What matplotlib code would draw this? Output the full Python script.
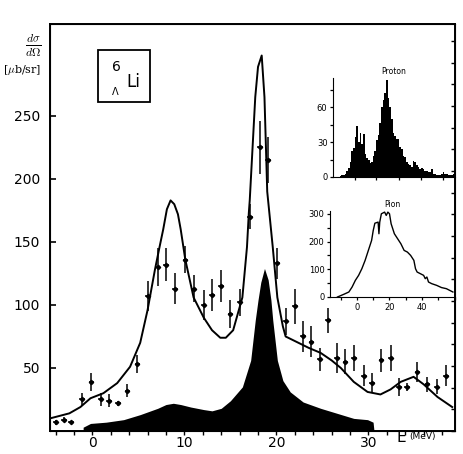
import numpy as np
import matplotlib
matplotlib.use('Agg')
import matplotlib.pyplot as plt
from matplotlib.ticker import MultipleLocator, FixedLocator, NullFormatter
from matplotlib.patches import Rectangle

plt.rcParams['mathtext.fontset'] = 'cm'

# fitted curve (solid line), E in MeV, cross section in ub/sr
fit_E = [-4.6, -2.5, -1.3, -0.2, 1.2, 2.7, 4.1, 5.2, 6.0, 6.8, 7.3, 7.7, 8.1, 8.5, 8.9, 9.3, 9.6, 10.1,
         11.0, 12.1, 13.0, 13.9, 14.5, 15.3, 16.3, 16.8, 17.0, 17.1, 17.7, 18.0, 18.4, 18.7,
         19.0, 19.6, 20.1, 20.7, 21.0, 23.5, 24.8, 26.0, 27.0, 28.4, 29.9, 31.3, 32.4, 33.5,
         34.9, 36.0, 37.5, 39.1]
fit_xs = [10, 14, 19, 26, 30, 38, 51, 70, 96, 128, 146, 160, 176, 183, 180, 172, 160, 136,
          106, 90, 80, 74, 74, 80, 106, 146, 173, 183, 265, 289, 298, 265,
          190, 146, 106, 83, 75, 66, 62, 56, 50, 39, 31, 29, 33, 39,
          43, 37, 27, 19]

# black filled component
comp_E = [-1.0, -1.0, -0.2, 1.5, 3.4, 5.2, 7.1, 8.0, 8.8, 9.6, 10.7, 12.1, 13.0, 14.0, 15.0,
          16.3, 17.2, 17.7, 18.0, 18.3, 18.7, 19.1, 19.4, 19.6, 20.1, 20.7, 21.5, 22.9, 24.8,
          26.6, 28.4, 29.9, 30.5, 30.6]
comp_xs = [0, 3, 6, 7, 9, 13, 18, 21, 22, 21, 19, 17, 16, 18, 24,
           35, 56, 88, 104, 118, 129, 120, 104, 88, 56, 40, 31, 23, 18,
           14, 10, 9, 7, 0]

# measured points
pts_E = [-4.0, -3.1, -2.3, -1.1, -0.1, 0.9, 1.8, 2.8, 3.8, 4.9, 6.0, 7.1, 8.0, 9.0, 10.1,
         11.0, 12.1, 13.0, 14.0, 15.0, 16.0, 17.1, 18.2, 19.1, 20.1, 21.0, 22.0, 22.9, 23.8,
         24.7, 25.6, 26.6, 27.5, 28.4, 29.5, 30.4, 31.4, 32.4, 33.3, 34.2, 35.3, 36.4, 37.4,
         38.4]
pts_xs = [7, 9, 7, 25, 39, 25, 24, 22, 32, 53, 107, 130, 132, 113, 136,
          113, 100, 108, 115, 93, 102, 170, 225, 215, 133, 87, 99, 75, 71,
          57, 88, 58, 55, 58, 44, 38, 56, 58, 35, 35, 47, 37, 35,
          44]
pts_err = [2, 2, 1, 5, 7, 5, 5, 2, 5, 7, 12, 15, 13, 12, 11,
           11, 12, 13, 13, 11, 11, 10, 21, 18, 12, 11, 14, 12, 12,
           9, 10, 12, 10, 10, 8, 8, 9, 10, 7, 3, 8, 6, 6,
           8]

# proton inset histogram (counts per bin, bins 4..73)
proton_counts = [1, 2, 2, 3, 5, 8, 13, 22, 25, 34, 44, 30, 38, 28, 37, 20, 16, 15, 12, 13,
                 18, 22, 32, 36, 46, 60, 66, 72, 83, 68, 60, 50, 38, 35, 33, 33, 26, 24, 18, 17,
                 13, 11, 10, 9, 14, 13, 10, 9, 7, 8, 7, 5, 5, 4, 4, 7, 3, 3, 2, 2,
                 2, 3, 4, 3, 3, 2, 2, 2, 3, 4]

# pion inset spectrum
pion_E = [-12, -8, -5, -3, -1, 1, 3, 5, 7, 9, 10, 11, 13, 13.5, 14, 15, 17, 18, 19, 20,
          21, 23, 25, 27, 29, 31, 33, 35, 36, 37, 39, 41, 42, 43, 44, 46, 49, 52, 55, 59]
pion_n = [0, 10, 18, 36, 60, 78, 102, 132, 168, 204, 240, 266, 270, 228, 270, 300, 306, 294, 306, 300,
          264, 228, 210, 192, 168, 162, 150, 132, 102, 90, 84, 78, 66, 72, 54, 48, 42, 34, 30, 18]

W, H = 463, 454
fig = plt.figure(figsize=(W / 100, H / 100), dpi=100)
ax = fig.add_axes([50 / W, 23 / H, 405 / W, 407 / H])

ax.fill_between(comp_E, 0, comp_xs, color='black', lw=0)
ax.plot(fit_E, fit_xs, color='black', lw=1.4)
ax.errorbar(pts_E, pts_xs, yerr=pts_err, xerr=0.3, fmt='D', ms=2.2, color='black',
            elinewidth=1.1, capsize=0)

ax.set_xlim(-4.6, 39.4)
ax.set_ylim(0, 323)
ax.set_xticks([0, 10, 20, 30])
ax.xaxis.set_minor_locator(MultipleLocator(2))
ax.set_yticks([50, 100, 150, 200, 250])
ax.tick_params(axis='y', direction='in', length=4, width=1.2, labelsize=10, pad=7)
ax.tick_params(axis='x', which='both', direction='out', length=3, width=1.0, labelsize=10, pad=0.5)
for s in ax.spines.values():
    s.set_linewidth(1.4)

# right spine ticks
axr = ax.twinx()
axr.set_ylim(0, 323)
axr.yaxis.set_major_locator(MultipleLocator(17.2))
axr.yaxis.set_major_formatter(NullFormatter())
axr.tick_params(axis='y', direction='in', length=3, width=1.0)

# label box
ax.add_patch(Rectangle((98 / W, 1 - 102 / H), 52 / W, 52 / H, transform=fig.transFigure,
                       fill=False, lw=1.3, color='black'))
fig.text(116 / W, 1 - 67 / H, '6', fontsize=10, ha='center', va='center')
fig.text(115 / W, 1 - 92 / H, 'Λ', fontsize=7, ha='center', va='center')
fig.text(133 / W, 1 - 82 / H, 'Li', fontsize=12, ha='center', va='center')

# y label
fig.text(33 / W, 1 - 45 / H, r'$\frac{d\sigma}{d\Omega}$', fontsize=12, ha='center', va='center')
fig.text(22 / W, 1 - 70 / H, r'[$\mu$b/sr]', fontsize=8, ha='center', va='center',
         family='DejaVu Serif')

# x label
fig.text(397 / W, 1 - 438 / H, 'E', fontsize=11, ha='left', va='center')
fig.text(409 / W, 1 - 437 / H, '(MeV)', fontsize=6.5, ha='left', va='center')

# proton inset
axp = fig.add_axes([333 / W, 1 - 177 / H, 122 / W, 99 / H])
bins = np.arange(4, 4 + len(proton_counts))
axp.bar(bins, proton_counts, width=1.0, align='edge', color='black', lw=0)
axp.set_xlim(0, 73.5)
axp.set_ylim(0, 85)
axp.set_yticks([0, 30, 60])
axp.yaxis.set_minor_locator(FixedLocator([15, 45, 75]))
axp.xaxis.set_major_locator(FixedLocator([13, 26, 40, 53, 66]))
axp.xaxis.set_major_formatter(NullFormatter())
axp.tick_params(axis='both', which='both', direction='out', length=2.5, width=0.9,
                labelsize=6, pad=1.5)
axp.spines['top'].set_visible(False)
axp.spines['right'].set_visible(False)
axp.set_title('Proton', fontsize=5.5, pad=3)
axp.patch.set_alpha(0)

# pion inset
axpi = fig.add_axes([330 / W, 1 - 297 / H, 125 / W, 86 / H])
axpi.plot(pion_E, pion_n, color='black', lw=1.0)
axpi.set_xlim(-16.6, 60.3)
axpi.set_ylim(0, 310)
axpi.set_xticks([0, 20, 40])
axpi.xaxis.set_minor_locator(MultipleLocator(10))
axpi.set_yticks([0, 100, 200, 300])
axpi.yaxis.set_minor_locator(MultipleLocator(50))
axpi.tick_params(axis='both', which='both', direction='out', length=2.5, width=0.9,
                 labelsize=6, pad=1.5)
axpi.spines['top'].set_visible(False)
axpi.spines['right'].set_visible(False)
axpi.set_title('Pion', fontsize=5.5, pad=3)
axpi.patch.set_alpha(0)

fig.savefig('out.png', dpi=100)
